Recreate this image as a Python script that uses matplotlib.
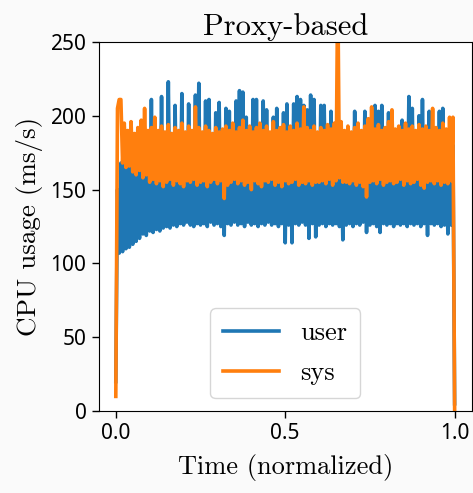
import numpy as np
import matplotlib
matplotlib.use("Agg")
import matplotlib.pyplot as plt

# CPU usage samples (ms/s), 201 samples over normalized time
user = [
    20, 150, 107, 168, 108, 172, 110, 165, 111, 170,
    113, 175, 115, 168, 117, 172, 120, 178, 119, 170,
    122, 211, 121, 176, 123, 180, 122, 213, 124, 175,
    125, 223, 124, 178, 126, 207, 125, 182, 127, 215,
    126, 180, 128, 208, 126, 182, 125, 214, 127, 222,
    126, 178, 127, 210, 125, 211, 128, 180, 126, 202,
    127, 209, 125, 176, 119, 205, 127, 203, 126, 180,
    128, 210, 126, 217, 127, 216, 125, 199, 128, 182,
    126, 211, 127, 211, 125, 182, 127, 210, 126, 204,
    128, 180, 126, 199, 127, 205, 125, 181, 127, 202,
    114, 208, 126, 180, 114, 208, 127, 213, 126, 211,
    128, 207, 126, 204, 117, 214, 127, 211, 118, 182,
    126, 207, 127, 207, 125, 180, 127, 203, 126, 178,
    127, 185, 125, 180, 116, 178, 126, 182, 127, 180,
    125, 203, 127, 182, 126, 179, 128, 203, 121, 181,
    126, 183, 127, 207, 125, 203, 121, 207, 127, 182,
    126, 202, 127, 180, 125, 183, 127, 181, 126, 197,
    127, 182, 125, 213, 127, 205, 126, 180, 127, 200,
    125, 211, 127, 182, 119, 203, 127, 181, 126, 183,
    127, 203, 125, 205, 126, 182, 120, 178, 126, 180,
    5,
]
sys_ = [
    10, 205, 211, 211, 168, 195, 165, 190, 166, 196,
    162, 188, 160, 192, 163, 197, 158, 205, 160, 190,
    155, 192, 157, 199, 154, 190, 156, 193, 152, 189,
    155, 194, 157, 188, 153, 192, 156, 190, 154, 195,
    152, 189, 156, 193, 155, 190, 157, 206, 153, 192,
    155, 189, 156, 193, 152, 190, 155, 188, 157, 192,
    154, 189, 156, 191, 144, 193, 153, 190, 155, 195,
    157, 189, 154, 192, 156, 197, 153, 190, 155, 193,
    150, 189, 156, 192, 154, 195, 152, 190, 156, 193,
    155, 189, 157, 196, 153, 190, 155, 192, 152, 194,
    156, 189, 154, 193, 155, 190, 157, 195, 153, 191,
    155, 206, 154, 192, 156, 190, 153, 193, 155, 189,
    155, 192, 156, 190, 154, 194, 157, 191, 153, 195,
    156, 290, 158, 196, 155, 190, 155, 193, 154, 189,
    156, 192, 153, 195, 155, 190, 152, 193, 145, 198,
    155, 206, 156, 191, 154, 194, 157, 190, 153, 192,
    155, 196, 156, 204, 154, 191, 155, 193, 157, 190,
    153, 195, 156, 191, 154, 193, 155, 190, 157, 194,
    153, 191, 151, 193, 155, 190, 156, 205, 154, 192,
    156, 190, 153, 195, 155, 191, 154, 199, 156, 199,
    0,
]
t = np.linspace(0, 1, len(user))

serif = ["cmr10", "DejaVu Serif"]
plt.rcParams["font.family"] = ["Noto Sans", "DejaVu Sans"]
plt.rcParams["axes.formatter.use_mathtext"] = True

fig = plt.figure(figsize=(4.73, 4.93), dpi=100, facecolor="#fafafa")
ax = fig.add_axes([0.209, 0.166, 0.788, 0.749])
ax.set_facecolor("white")

ax.plot(t, user, color="#1f77b4", lw=2.6, label="user")
ax.plot(t, sys_, color="#ff7f0e", lw=2.6, label="sys")

ax.set_ylim(0, 250)
ax.set_xlim(-0.05, 1.05)
ax.set_xticks([0.0, 0.5, 1.0])
ax.set_xticklabels(["0.0", "0.5", "1.0"])
ax.set_yticks([0, 50, 100, 150, 200, 250])
ax.tick_params(labelsize=15, length=5, width=1)

ax.set_title("Proxy-based", family=serif, fontsize=22, pad=5)
ax.set_xlabel("Time (normalized)", family=serif, fontsize=19, labelpad=7)
ax.set_ylabel("CPU usage (ms/s)", family=serif, fontsize=19.5, labelpad=5)

leg = ax.legend(loc="lower center", prop={"family": serif, "size": 19},
                handlelength=2.1, borderpad=0.5, labelspacing=0.6)
leg.get_frame().set_edgecolor("#cccccc")

fig.savefig("out.png", dpi=100, facecolor=fig.get_facecolor())
